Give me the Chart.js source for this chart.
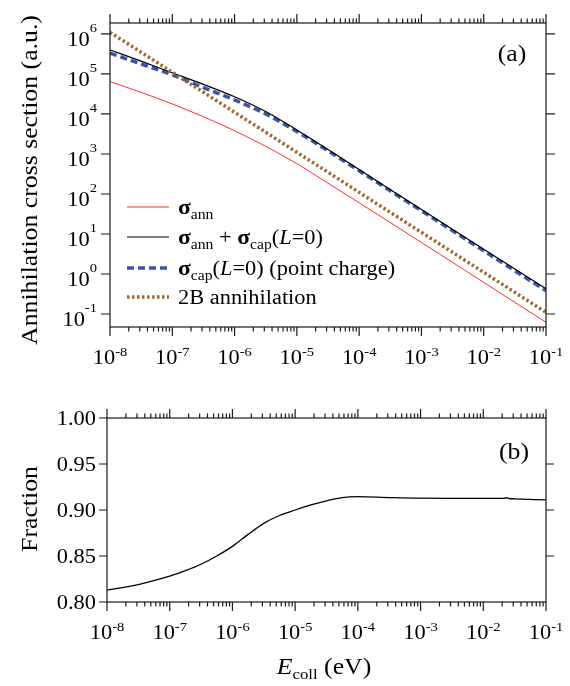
<!DOCTYPE html>
<html>
<head>
<meta charset="utf-8">
<script src="https://cdn.jsdelivr.net/npm/chart.js@4.4.1/dist/chart.umd.min.js"></script>
<style>
  body { margin: 0; background: #fff; }
  #wrap { position: relative; width: 570px; height: 686px; }
  canvas { position: absolute; left: 0; }
  #top { top: 0; }
  #bot { top: 390px; }
</style>
</head>
<body>
<div id="wrap">
  <canvas id="top" width="570" height="390"></canvas>
  <canvas id="bot" width="570" height="296"></canvas>
</div>
<script>
const FONT = '"Liberation Serif", "Times New Roman", serif';
const SX = 1.12; // widen the serif text a little

// collision energy grid (eV)
const energy = [1e-8, 3.16e-8, 1e-7, 3.16e-7, 1e-6, 3.16e-6, 1e-5, 3.16e-5, 1e-4, 1e-3, 1e-2, 1e-1];
// cross sections (a.u.)
const sigmaAnn   = [64600, 34700, 17800, 8510, 3800, 1550, 575, 186, 60.3, 6.17, 0.617, 0.0617];
const sigmaTotal = [398000, 209000, 107000, 55000, 26900, 11500, 3980, 1290, 407, 40.7, 4.17, 0.427];
const sigmaCap   = [331000, 178000, 95500, 45700, 22400, 10000, 3630, 1200, 380, 38, 3.8, 0.38];
const twoBody    = [1.1e6, 3.5e5, 1.1e5, 3.5e4, 1.1e4, 3500, 1100, 350, 110, 11, 1.1, 0.11];

// fraction panel
const fracEnergy = [1e-8, 3.16e-8, 1e-7, 1.78e-7, 3.16e-7, 5.62e-7, 1e-6, 1.78e-6, 3.16e-6, 5.62e-6,
                    1e-5, 1.78e-5, 3.16e-5, 5.62e-5, 1e-4, 3.16e-4, 1e-3, 3.16e-3, 1e-2, 2.1e-2, 2.3e-2, 2.6e-2, 3.16e-2, 1e-1];
const fraction   = [0.813, 0.819, 0.828, 0.834, 0.841, 0.850, 0.8605, 0.8735, 0.8855, 0.894,
                    0.900, 0.9055, 0.910, 0.9135, 0.9145, 0.9135, 0.9128, 0.9127, 0.9127, 0.9127, 0.9133, 0.9125, 0.9122, 0.911];

// axis ticks
const xDecades = [1e-8, 1e-7, 1e-6, 1e-5, 1e-4, 1e-3, 1e-2, 1e-1];
const xExponents = ['-8', '-7', '-6', '-5', '-4', '-3', '-2', '-1'];
const minorSteps = [2, 3, 4, 5, 6, 7, 8, 9];
const yDecades = [1e-1, 1, 10, 100, 1e3, 1e4, 1e5, 1e6];
const yExponents = ['-1', '0', '1', '2', '3', '4', '5', '6'];
const fracTicks = [0.80, 0.85, 0.90, 0.95, 1.00];
const fracLabels = ['0.80', '0.85', '0.90', '0.95', '1.00'];

function pts(xs, ys) {
  return xs.map((x, i) => ({ x: x, y: ys[i] }));
}

function fontOf(r) {
  return (r[2] || '') + ' ' + r[1] + 'px ' + FONT;
}

// runs: [text, size, style, dy]
function drawRuns(ctx, runs, x, y, align) {
  ctx.save();
  let w = 0;
  runs.forEach(r => { ctx.font = fontOf(r); w += ctx.measureText(r[0]).width; });
  w *= SX;
  const start = align === 'center' ? x - w / 2 : align === 'right' ? x - w : x;
  ctx.translate(start, y);
  ctx.scale(SX, 1);
  ctx.fillStyle = '#000';
  ctx.textBaseline = 'alphabetic';
  ctx.textAlign = 'left';
  let cx = 0;
  runs.forEach(r => {
    ctx.font = fontOf(r);
    ctx.fillText(r[0], cx, r[3] || 0);
    cx += ctx.measureText(r[0]).width;
  });
  ctx.restore();
}

function drawXAxis(chart) {
  const { ctx, chartArea: a, scales: { x } } = chart;
  ctx.beginPath();
  xDecades.forEach((d, i) => {
    const px = x.getPixelForValue(d);
    ctx.moveTo(px, a.bottom); ctx.lineTo(px, a.bottom + 9);
    ctx.moveTo(px, a.top); ctx.lineTo(px, a.top - 9);
    if (i < xDecades.length - 1) {
      minorSteps.forEach(k => {
        const mx = x.getPixelForValue(d * k);
        ctx.moveTo(mx, a.bottom); ctx.lineTo(mx, a.bottom + 4.5);
        ctx.moveTo(mx, a.top); ctx.lineTo(mx, a.top - 4.5);
      });
    }
  });
  ctx.stroke();
  xDecades.forEach((d, i) => {
    const px = x.getPixelForValue(d);
    drawRuns(ctx, [['10', 20], [xExponents[i], 13, '', -8]], px, a.bottom + 37, 'center');
  });
}

function frame(chart) {
  const { ctx, chartArea: a } = chart;
  ctx.save();
  ctx.strokeStyle = '#1a1a1a';
  ctx.lineWidth = 1.2;
  ctx.strokeRect(a.left, a.top, a.right - a.left, a.bottom - a.top);
}

const topDecor = {
  id: 'topDecor',
  afterDraw(chart) {
    const { ctx, chartArea: a, scales: { y } } = chart;
    frame(chart);
    drawXAxis(chart);
    ctx.beginPath();
    yDecades.forEach(v => {
      const py = y.getPixelForValue(v);
      ctx.moveTo(a.left, py); ctx.lineTo(a.left - 9, py);
      ctx.moveTo(a.right, py); ctx.lineTo(a.right + 9, py);
    });
    ctx.stroke();
    yDecades.forEach((v, i) => {
      const py = y.getPixelForValue(v);
      drawRuns(ctx, [['10', 20], [yExponents[i], 13, '', -14]], a.left - 13, py + 12, 'right');
    });

    // y title
    ctx.save();
    ctx.translate(37, 180);
    ctx.rotate(-Math.PI / 2);
    drawRuns(ctx, [['Annihilation cross section (a.u.)', 23]], 0, 0, 'center');
    ctx.restore();

    drawRuns(ctx, [['(a)', 23]], 512, 61, 'center');

    // legend
    const entries = [
      [['\u03c3', 21, 'bold'], ['ann', 14, '', 5]],
      [['\u03c3', 21, 'bold'], ['ann', 14, '', 5], [' + ', 20], ['\u03c3', 21, 'bold'], ['cap', 14, '', 5],
       ['(', 20], ['L', 20, 'italic'], ['=0)', 20]],
      [['\u03c3', 21, 'bold'], ['cap', 14, '', 5], ['(', 20], ['L', 20, 'italic'], ['=0) (point charge)', 20]],
      [['2B annihilation', 20]]
    ];
    const rows = [207, 237, 268, 297];
    rows.forEach((ry, i) => {
      const ds = chart.data.datasets[i];
      ctx.save();
      ctx.strokeStyle = ds.borderColor;
      ctx.lineWidth = ds.borderWidth;
      ctx.setLineDash(ds.borderDash || []);
      ctx.beginPath();
      ctx.moveTo(127, ry);
      ctx.lineTo(169, ry);
      ctx.stroke();
      ctx.restore();
      drawRuns(ctx, entries[i], 178, ry + 6.5, 'left');
    });
    ctx.restore();
  }
};

const botDecor = {
  id: 'botDecor',
  afterDraw(chart) {
    const { ctx, chartArea: a, scales: { y } } = chart;
    frame(chart);
    drawXAxis(chart);
    ctx.beginPath();
    fracTicks.forEach((v, i) => {
      const py = y.getPixelForValue(v);
      ctx.moveTo(a.left, py); ctx.lineTo(a.left - 8, py);
      if (i > 0 && i < fracTicks.length - 1) {
        ctx.moveTo(a.right, py); ctx.lineTo(a.right + 8, py);
      }
    });
    ctx.stroke();
    fracTicks.forEach((v, i) => {
      const py = y.getPixelForValue(v);
      drawRuns(ctx, [[fracLabels[i], 20]], a.left - 11, py + 7, 'right');
    });

    ctx.save();
    ctx.translate(37, 119);
    ctx.rotate(-Math.PI / 2);
    drawRuns(ctx, [['Fraction', 23]], 0, 0, 'center');
    ctx.restore();

    drawRuns(ctx, [['E', 23, 'italic'], ['coll', 15, '', 5], [' (eV)', 23]], 324, 284, 'center');
    drawRuns(ctx, [['(b)', 23]], 514, 69, 'center');
    ctx.restore();
  }
};

function logX() {
  return { type: 'logarithmic', min: 1e-8, max: 1e-1, display: false };
}

new Chart(document.getElementById('top'), {
  type: 'line',
  data: {
    datasets: [
      { label: 'sigma_ann', data: pts(energy, sigmaAnn), borderColor: '#ff2b2b', borderWidth: 1, order: 4 },
      { label: 'sigma_ann + sigma_cap(L=0)', data: pts(energy, sigmaTotal), borderColor: '#000000', borderWidth: 1.2, order: 2 },
      { label: 'sigma_cap(L=0) (point charge)', data: pts(energy, sigmaCap), borderColor: '#3a54a6', borderWidth: 3.5, borderDash: [7, 4], order: 3 },
      { label: '2B annihilation', data: pts(energy, twoBody), borderColor: '#9e6b2a', borderWidth: 3.5, borderDash: [2.5, 2.5], order: 1 }
    ]
  },
  options: {
    responsive: false,
    animation: false,
    layout: { padding: { left: 110, right: 24, top: 23, bottom: 63 } },
    elements: { point: { radius: 0 }, line: { cubicInterpolationMode: 'monotone', borderCapStyle: 'butt' } },
    scales: {
      x: logX(),
      y: { type: 'logarithmic', min: 0.0473, max: 1.88e6, display: false }
    },
    plugins: { legend: { display: false }, tooltip: { enabled: false } }
  },
  plugins: [topDecor]
});

new Chart(document.getElementById('bot'), {
  type: 'line',
  data: {
    datasets: [
      { label: 'Fraction', data: pts(fracEnergy, fraction), borderColor: '#000000', borderWidth: 1.3 }
    ]
  },
  options: {
    responsive: false,
    animation: false,
    layout: { padding: { left: 107, right: 24, top: 28, bottom: 84 } },
    elements: { point: { radius: 0 }, line: { cubicInterpolationMode: 'monotone' } },
    scales: {
      x: logX(),
      y: { type: 'linear', min: 0.8, max: 1.0, display: false }
    },
    plugins: { legend: { display: false }, tooltip: { enabled: false } }
  },
  plugins: [botDecor]
});
</script>
</body>
</html>
